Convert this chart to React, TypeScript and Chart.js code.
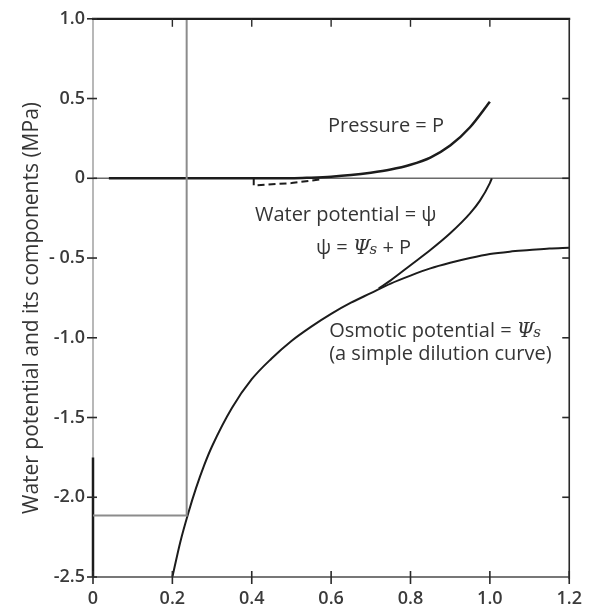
import React, { useEffect, useRef } from "react";
import { Chart, registerables } from "chart.js";

Chart.register(...registerables);

// ---- axis ticks ----
const xTicks = [0, 0.2, 0.4, 0.6, 0.8, 1.0, 1.2];
const xTickLabels = ["0", "0.2", "0.4", "0.6", "0.8", "1.0", "1.2"];
const yTicks = [1.0, 0.5, 0, -0.5, -1.0, -1.5, -2.0, -2.5];
const yTickLabels = ["1.0", "0.5", "0", "- 0.5", "-1.0", "-1.5", "-2.0", "-2.5"];
const yTitle = "Water potential and its components (MPa)";

// ---- osmotic potential (simple dilution curve) ----
const osmoticX = [0.2, 0.22, 0.24, 0.26, 0.28, 0.3, 0.35, 0.4, 0.45, 0.5, 0.55, 0.6, 0.65, 0.7, 0.75, 0.8, 0.85, 0.9, 0.95, 1.0, 1.05, 1.1, 1.15, 1.2];
const osmoticY = [-2.5, -2.28, -2.1, -1.94, -1.8, -1.68, -1.44, -1.26, -1.13, -1.02, -0.93, -0.85, -0.78, -0.72, -0.66, -0.61, -0.565, -0.53, -0.5, -0.475, -0.46, -0.45, -0.44, -0.435];

// ---- water potential (diverges from osmotic near 0.72) ----
const waterX = [0.72, 0.75, 0.8, 0.85, 0.9, 0.95, 0.975, 1.0, 1.005];
const waterY = [-0.69, -0.64, -0.545, -0.45, -0.345, -0.22, -0.14, -0.03, 0.0];

// ---- pressure ----
const pressureX = [0.04, 0.2, 0.4, 0.5, 0.55, 0.6, 0.65, 0.7, 0.75, 0.8, 0.85, 0.9, 0.95, 1.0];
const pressureY = [0, 0, 0, 0, 0.004, 0.01, 0.02, 0.035, 0.055, 0.085, 0.13, 0.205, 0.32, 0.48];

// ---- small dashed trace just under zero ----
const traceX = [0.405, 0.405, 0.5, 0.58];
const traceY = [0, -0.045, -0.03, -0.005];

// ---- gray guide lines (relative water content at -2.11 MPa) ----
const guideX = [0.236, 0.236, 0];
const guideY = [1.0, -2.115, -2.115];

// ---- dark stretch of the left axis ----
const leftDarkX = [0, 0];
const leftDarkY = [-1.75, -2.5];

// ---- annotations (data coordinates: left x, baseline y) ----
type Seg = { t: string; italic?: boolean; small?: boolean };
const annotations: { x: number; y: number; segs: Seg[] }[] = [
  { x: 0.592, y: 0.288, segs: [{ t: "Pressure = P" }] },
  { x: 0.408, y: -0.268, segs: [{ t: "Water potential = ψ" }] },
  { x: 0.562, y: -0.476, segs: [{ t: "ψ = " }, { t: "Ψ", italic: true }, { t: "s", italic: true, small: true }, { t: " + P" }] },
  { x: 0.595, y: -0.994, segs: [{ t: "Osmotic potential = " }, { t: "Ψ", italic: true }, { t: "s", italic: true, small: true }] },
  { x: 0.595, y: -1.137, segs: [{ t: "(a simple dilution curve)" }] },
];

const FONT = "'Open Sans', 'DejaVu Sans', sans-serif";
const TEXT = "#353535";

const pts = (xs: number[], ys: number[]) => xs.map((x, i) => ({ x, y: ys[i] }));

function line(ctx: CanvasRenderingContext2D, x1: number, y1: number, x2: number, y2: number, color: string, w: number) {
  ctx.beginPath();
  ctx.strokeStyle = color;
  ctx.lineWidth = w;
  ctx.moveTo(x1, y1);
  ctx.lineTo(x2, y2);
  ctx.stroke();
}

const backPlugin = {
  id: "back",
  beforeDatasetsDraw(chart: any) {
    const { ctx, chartArea: a, scales } = chart;
    const y0 = scales.y.getPixelForValue(0);
    ctx.save();
    line(ctx, a.left, y0, a.right, y0, "#6a6a6a", 1.5);
    line(ctx, a.left, a.top, a.left, a.bottom, "#a0a0a0", 1.5);
    ctx.restore();
  },
};

const framePlugin = {
  id: "frame",
  afterDatasetsDraw(chart: any) {
    const { ctx, chartArea: a, scales } = chart;
    const xs = scales.x;
    const ys = scales.y;
    ctx.save();
    line(ctx, a.left - 1, a.top, a.right + 1, a.top, "#1e1e1e", 2.2);
    line(ctx, a.right, a.top, a.right, a.bottom + 2, "#2a2a2a", 1.6);
    line(ctx, a.left, a.bottom, a.right, a.bottom, "#4a4a4a", 1.6);
    xTicks.forEach((v) => {
      const px = xs.getPixelForValue(v);
      line(ctx, px, a.bottom - 6, px, a.bottom + 7, "#2a2a2a", 1.6);
      if (v > 0 && v < 1.2) line(ctx, px, a.top, px, a.top + 8, "#2a2a2a", 1.4);
    });
    yTicks.forEach((v) => {
      const py = ys.getPixelForValue(v);
      line(ctx, a.left - 6, py, a.left + 4, py, "#2a2a2a", 1.6);
      if (v < 1.0 && v > -2.5) line(ctx, a.right - 7, py, a.right, py, "#2a2a2a", 1.6);
    });

    // annotations
    ctx.fillStyle = TEXT;
    ctx.textBaseline = "alphabetic";
    ctx.textAlign = "left";
    annotations.forEach((an) => {
      let px = xs.getPixelForValue(an.x);
      const py = ys.getPixelForValue(an.y);
      an.segs.forEach((s) => {
        ctx.font = s.italic
          ? `italic ${s.small ? 15 : 20}px 'DejaVu Serif', serif`
          : `20px ${FONT}`;
        ctx.fillText(s.t, px, py);
        px += ctx.measureText(s.t).width + (s.italic && !s.small ? -1 : 0);
      });
    });

    // y-axis title
    ctx.save();
    ctx.translate(32, 308);
    ctx.rotate(-Math.PI / 2);
    ctx.textAlign = "center";
    ctx.textBaseline = "middle";
    ctx.font = `21px ${FONT}`;
    ctx.fillStyle = TEXT;
    ctx.fillText(yTitle, 0, 0);
    ctx.restore();
    ctx.restore();
  },
};

function findLabel(vals: number[], labels: string[], v: number) {
  const i = vals.findIndex((t) => Math.abs(t - v) < 1e-6);
  return i >= 0 ? labels[i] : "";
}

export default function App() {
  const ref = useRef<HTMLCanvasElement>(null);

  useEffect(() => {
    if (!ref.current) return;
    const black = "#1c1c1c";
    const chart = new Chart(ref.current, {
      type: "line",
      data: {
        datasets: [
          { label: "guide", data: pts(guideX, guideY), borderColor: "#8c8c8c", borderWidth: 2, pointRadius: 0, tension: 0 },
          { label: "leftDark", data: pts(leftDarkX, leftDarkY), borderColor: black, borderWidth: 2.5, pointRadius: 0, tension: 0, clip: 6 },
          { label: "trace", data: pts(traceX, traceY), borderColor: black, borderWidth: 2, borderDash: [7, 4], pointRadius: 0, tension: 0 },
          { label: "Pressure", data: pts(pressureX, pressureY), borderColor: black, borderWidth: 2.5, pointRadius: 0, cubicInterpolationMode: "monotone" },
          { label: "Water potential", data: pts(waterX, waterY), borderColor: black, borderWidth: 2, pointRadius: 0, cubicInterpolationMode: "monotone" },
          { label: "Osmotic potential", data: pts(osmoticX, osmoticY), borderColor: black, borderWidth: 2, pointRadius: 0, cubicInterpolationMode: "monotone" },
        ],
      },
      options: {
        animation: false,
        responsive: false,
        maintainAspectRatio: false,
        parsing: false as any,
        layout: { padding: { top: 14, right: 23, left: 0, bottom: 0 } },
        plugins: { legend: { display: false }, tooltip: { enabled: false }, title: { display: false } },
        scales: {
          x: {
            type: "linear",
            min: 0,
            max: 1.2,
            grid: { display: false, drawTicks: false },
            border: { display: false },
            afterBuildTicks: (s: any) => { s.ticks = xTicks.map((v) => ({ value: v })); },
            afterFit: (s: any) => { s.height = 33; },
            ticks: {
              padding: 11,
              color: "#3a3a3a",
              font: { family: FONT, size: 18, weight: "600" },
              maxRotation: 0,
              autoSkip: false,
              callback: (v: any) => findLabel(xTicks, xTickLabels, Number(v)),
            },
          },
          y: {
            type: "linear",
            min: -2.5,
            max: 1.0,
            grid: { display: false, drawTicks: false },
            border: { display: false },
            afterBuildTicks: (s: any) => { s.ticks = yTicks.map((v) => ({ value: v })); },
            afterFit: (s: any) => { s.width = 93; },
            ticks: {
              padding: 8,
              color: "#3a3a3a",
              font: { family: FONT, size: 18, weight: "600" },
              autoSkip: false,
              callback: (v: any) => findLabel(yTicks, yTickLabels, Number(v)),
            },
          },
        },
      },
      plugins: [backPlugin, framePlugin],
    } as any);
    return () => chart.destroy();
  }, []);

  return (
    <div style={{ position: "fixed", left: 0, top: 0, width: 593, height: 610, background: "#fff" }}>
      <canvas ref={ref} width={593} height={610} style={{ display: "block", width: 593, height: 610 }} />
    </div>
  );
}
